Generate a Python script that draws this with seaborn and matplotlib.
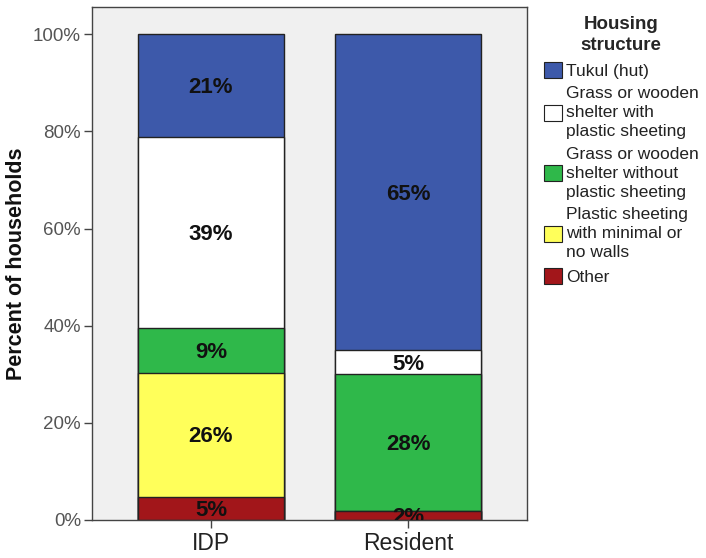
import numpy as np
import pandas as pd
import matplotlib
matplotlib.use("Agg")
import matplotlib.pyplot as plt
import seaborn as sns
from matplotlib.patches import Patch

# data (percent of households)
groups = ["IDP", "Resident"]
structures = [
    "Other",
    "Plastic sheeting\nwith minimal or\nno walls",
    "Grass or wooden\nshelter without\nplastic sheeting",
    "Grass or wooden\nshelter with\nplastic sheeting",
    "Tukul (hut)",
]
idp_pct = [4.7, 25.6, 9.2, 39.4, 21.1]
resident_pct = [1.8, 0.0, 28.2, 5.0, 65.0]
colors = ["#a2161a", "#ffff5a", "#2fb84a", "#ffffff", "#3d59aa"]

sns.set_theme(style="white")
plt.rcParams["font.family"] = ["Liberation Sans", "DejaVu Sans"]

fig = plt.figure(figsize=(7.06, 5.58), dpi=100)
ax = fig.add_axes([92 / 706, 38 / 558, 435 / 706, 513 / 558])
ax.set_facecolor("#f0f0f0")

df = pd.DataFrame({"group": np.repeat(groups, len(structures)),
                   "structure": structures * len(groups),
                   "pct": idp_pct + resident_pct})
df["cum"] = df.groupby("group")["pct"].cumsum()

# draw cumulative layers from the top down so lower segments sit on top
for i in reversed(range(len(structures))):
    sub = df[df["structure"] == structures[i]]
    sns.barplot(data=sub, x="group", y="cum", order=groups, color=colors[i],
                width=0.746, edgecolor="#222222", linewidth=1.0,
                saturation=1, ax=ax, errorbar=None)

# segment labels
for gi, g in enumerate(groups):
    sub = df[df["group"] == g]
    for _, row in sub.iterrows():
        if row["pct"] <= 0:
            continue
        mid = row["cum"] - row["pct"] / 2
        ax.text(gi, mid - 0.4, f"{row['pct']:.0f}%", ha="center", va="center",
                fontsize=16, fontweight="bold", color="#111111", clip_on=True)

ax.set_xlim(-0.604, 1.604)
ax.set_ylim(0, 105.6)
ax.set_yticks([0, 20, 40, 60, 80, 100])
ax.set_yticklabels([f"{v}%" for v in [0, 20, 40, 60, 80, 100]],
                   fontsize=13.5, color="#555555")
ax.set_xticks([0, 1])
ax.set_xticklabels(groups, fontsize=16.5, color="#222222")
ax.tick_params(axis="both", direction="out", length=6, width=1,
               color="#444444", left=True, bottom=True)
ax.tick_params(axis="y", pad=2)
ax.tick_params(axis="x", pad=3)
ax.set_xlabel("")
ax.set_ylabel("Percent of households", fontsize=15.5, fontweight="bold",
              color="#111111", labelpad=4)
for s in ax.spines.values():
    s.set_color("#444444")
    s.set_linewidth(1)

handles = [Patch(facecolor=colors[i], edgecolor="#222222", linewidth=0.8)
           for i in reversed(range(len(structures)))]
labels = list(reversed(structures))
leg = fig.legend(handles, labels, loc="upper left",
                 bbox_to_anchor=(537 / 706, 1 - 9 / 558), frameon=False,
                 title="Housing\nstructure", fontsize=12.5,
                 title_fontproperties={"weight": "bold", "size": 13.5},
                 handlelength=1.05, handleheight=1.05, handletextpad=0.2,
                 labelspacing=0.45, borderaxespad=0)
leg.get_title().set_multialignment("center")
leg.get_title().set_linespacing(1.3)
for t in leg.get_texts():
    t.set_color("#222222")
    t.set_linespacing(1.32)

fig.savefig("out.png", dpi=100)
